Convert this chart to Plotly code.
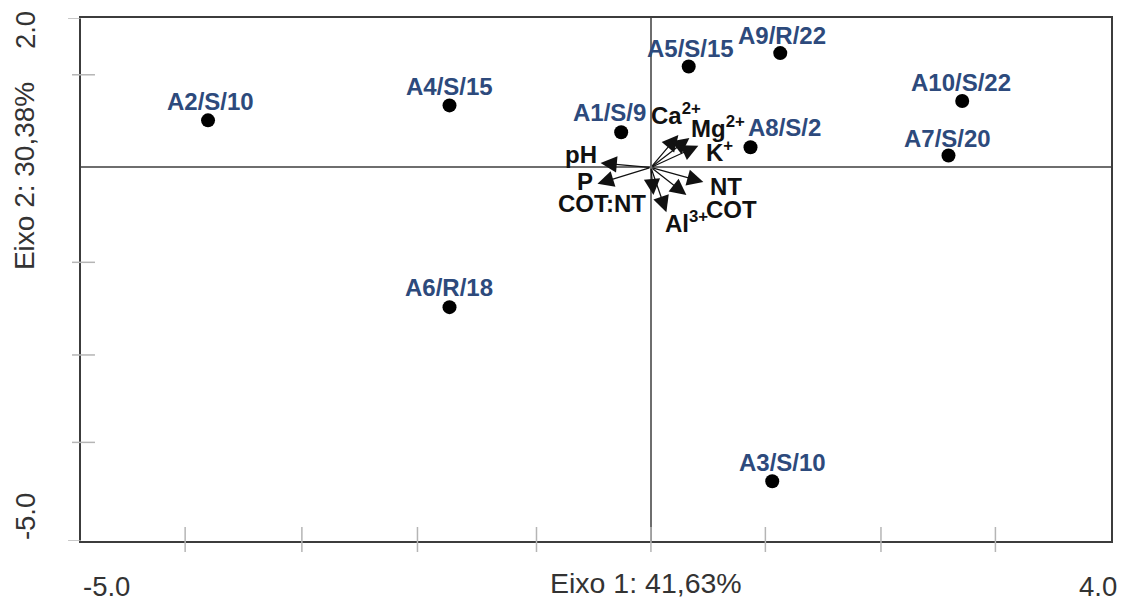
import plotly.graph_objects as go

# ---- data ----
sample_names = ["A1/S/9", "A2/S/10", "A3/S/10", "A4/S/15", "A5/S/15",
                "A6/R/18", "A7/S/20", "A8/S/2", "A9/R/22", "A10/S/22"]
eixo1 = [-0.26, -3.87, 1.06, -1.76, 0.33, -1.76, 2.60, 0.87, 1.13, 2.72]
eixo2 = [0.47, 0.63, -4.20, 0.83, 1.35, -1.87, 0.16, 0.27, 1.53, 0.89]

var_names = ["pH", "P", "COT:NT", "Al<sup>3+</sup>", "COT", "NT",
             "Ca<sup>2+</sup>", "Mg<sup>2+</sup>", "K<sup>+</sup>"]
var_x = [-0.44, -0.467, 0.022, 0.135, 0.31, 0.458, 0.24, 0.336, 0.414]
var_y = [0.06, -0.22, -0.37, -0.60, -0.37, -0.195, 0.435, 0.395, 0.29]

x_range = [-4.98, 4.02]
y_range = [-5.0, 2.0]
x_tick_vals = [-4.07, -3.05, -2.04, -1.0, 0.0, 1.0, 2.01, 3.01]
y_tick_vals = [1.24, -1.27, -2.51, -3.68]
y_end_ticks = [2.0, -5.0]
x_tick_labels = ["-5.0", "4.0"]
y_tick_labels = ["2.0", "-5.0"]
x_title = "Eixo 1: 41,63%"
y_title = "Eixo 2: 30,38%"

# ---- styles ----
FONT = "Liberation Sans, Arial, sans-serif"
LABEL_BLUE = "#2D4A7C"
sample_label_shift = {
    "A1/S/9": (-12, 19.5), "A2/S/10": (2, 19), "A3/S/10": (10, 19),
    "A4/S/15": (0, 18.5), "A5/S/15": (1.5, 18), "A6/R/18": (-1, 20),
    "A7/S/20": (-1, 17), "A8/S/2": (34, 20), "A9/R/22": (2, 18),
    "A10/S/22": (-1, 18.5),
}
var_label_shift = [(-20, 8), (-12.5, 2), (-51, -8), (20, -10), (45, -14),
                   (22.5, -4.5), (-2, 21), (29, 11), (21, -5)]

W, H = 1122, 598
ML, MR, MT, MB = 81, 9, 18, 57
PW, PH = W - ML - MR, H - MT - MB


def px_to_paper_y(py):
    return (H - MB - py) / PH


def px_to_paper_x(px):
    return (px - ML) / PW


fig = go.Figure()

fig.add_trace(go.Scatter(
    x=eixo1, y=eixo2, mode="markers",
    marker=dict(size=14, color="black"),
    hoverinfo="skip", showlegend=False,
))

annotations = []
for name, x, y in zip(sample_names, eixo1, eixo2):
    dx, dy = sample_label_shift[name]
    annotations.append(dict(
        x=x, y=y, xref="x", yref="y", text=name, showarrow=False,
        xshift=dx, yshift=dy, xanchor="center", yanchor="middle",
        font=dict(family=FONT, size=24, color=LABEL_BLUE, weight="bold"),
    ))

for name, x, y, (dx, dy) in zip(var_names, var_x, var_y, var_label_shift):
    annotations.append(dict(
        x=x, y=y, xref="x", yref="y", ax=0, ay=0, axref="x", ayref="y",
        text="", showarrow=True, arrowhead=2, arrowsize=2.6, arrowwidth=1.25,
        arrowcolor="#111111", standoff=0,
    ))
    annotations.append(dict(
        x=x, y=y, xref="x", yref="y", text="<b>" + name + "</b>", showarrow=False,
        xshift=dx, yshift=dy, xanchor="center", yanchor="middle",
        font=dict(family=FONT, size=24, color="#111111"),
    ))

# axis titles and end labels
annotations.append(dict(x=px_to_paper_x(647), y=px_to_paper_y(583), xref="paper", yref="paper",
                        text=x_title, showarrow=False, xanchor="center", yanchor="middle",
                        font=dict(family=FONT, size=28.5, color="#333333")))
annotations.append(dict(x=px_to_paper_x(24), y=px_to_paper_y(176), xref="paper", yref="paper",
                        text=y_title, showarrow=False, textangle=-90, xanchor="center", yanchor="middle",
                        font=dict(family=FONT, size=28, color="#333333")))
for lab, px in zip(x_tick_labels, [107, 1100]):
    annotations.append(dict(x=px_to_paper_x(px), y=px_to_paper_y(586), xref="paper", yref="paper",
                            text=lab, showarrow=False, xanchor="center", yanchor="middle",
                            font=dict(family=FONT, size=27.5, color="#333333")))
for lab, py in zip(y_tick_labels, [30, 517]):
    annotations.append(dict(x=px_to_paper_x(25), y=px_to_paper_y(py), xref="paper", yref="paper",
                            text=lab, showarrow=False, textangle=-90, xanchor="center", yanchor="middle",
                            font=dict(family=FONT, size=27.5, color="#333333")))

shapes = []
TICK = dict(color="#b5b5b5", width=1.5)
for v in x_tick_vals:
    shapes.append(dict(type="line", xref="x", yref="paper", x0=v, x1=v,
                       y0=px_to_paper_y(527), y1=px_to_paper_y(552), line=TICK, layer="above"))
for v in y_tick_vals:
    shapes.append(dict(type="line", xref="paper", yref="y", y0=v, y1=v,
                       x0=px_to_paper_x(72), x1=px_to_paper_x(95), line=TICK, layer="above"))
for v in y_end_ticks:
    shapes.append(dict(type="line", xref="paper", yref="y", y0=v, y1=v,
                       x0=px_to_paper_x(68), x1=0, line=TICK, layer="above"))

axis_common = dict(showgrid=False, showticklabels=False, ticks="",
                   showline=True, mirror=True, linecolor="#3c3c3c", linewidth=2,
                   zeroline=True, zerolinecolor="#6e6e6e", zerolinewidth=2, fixedrange=True)

fig.update_layout(
    width=W, height=H, autosize=False,
    margin=dict(l=ML, r=MR, t=MT, b=MB, pad=0),
    paper_bgcolor="white", plot_bgcolor="white",
    xaxis=dict(range=x_range, **axis_common),
    yaxis=dict(range=y_range, **axis_common),
    annotations=annotations, shapes=shapes,
    font=dict(family=FONT),
)

fig.write_html("out.html", config=dict(displayModeBar=False))
